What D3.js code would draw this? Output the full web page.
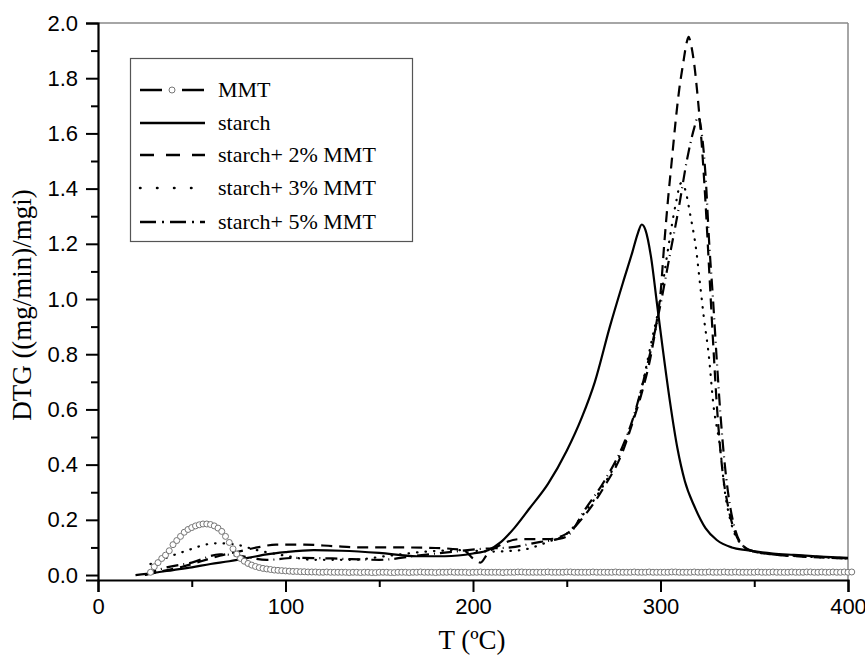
<!DOCTYPE html>
<html>
<head>
<meta charset="utf-8">
<script src="https://cdn.jsdelivr.net/npm/d3@7"></script>
<style>
  body { margin: 0; background: #fff; }
</style>
</head>
<body>
<div class="chart"></div>
<script>
var width = 865;
var height = 655;
var margin = {top: 23, right: 17, bottom: 75, left: 98};

// series: [T, DTG]
var starch = [[20,0],[30,0.008],[40,0.018],[50,0.028],[60,0.04],[70,0.05],[80,0.062],[90,0.075],[100,0.083],
  [115,0.09],[130,0.088],[150,0.08],[170,0.068],[185,0.068],[200,0.078],[208,0.09],[215,0.12],[222,0.17],
  [230,0.24],[240,0.33],[250,0.45],[258,0.57],[265,0.7],[273,0.9],[280,1.06],[285,1.17],[288,1.24],[290,1.27],
  [292,1.25],[295,1.15],[298,0.99],[301,0.83],[305,0.63],[309,0.46],[313,0.34],[318,0.25],[324,0.17],
  [330,0.127],[338,0.1],[346,0.09],[360,0.078],[371,0.073],[385,0.067],[400,0.062]];

var mmt2 = [[25,0],[35,0.015],[45,0.03],[55,0.05],[65,0.07],[75,0.085],[85,0.1],[95,0.11],[110,0.11],
  [125,0.105],[140,0.1],[160,0.1],[180,0.098],[195,0.09],[200,0.06],[204,0.045],[208,0.08],[215,0.11],
  [225,0.13],[240,0.13],[250,0.15],[260,0.22],[270,0.32],[280,0.45],[285,0.55],[290,0.66],[295,0.8],
  [298,0.92],[300,1.02],[302,1.2],[304,1.36],[306,1.5],[308,1.64],[310,1.76],[312,1.85],[314,1.93],
  [315,1.95],[316,1.93],[318,1.85],[320,1.72],[322,1.56],[324,1.35],[326,1.1],[328,0.85],[330,0.62],
  [333,0.38],[336,0.25],[340,0.15],[345,0.1],[350,0.085],[360,0.075],[380,0.065],[400,0.06]];

var mmt3 = [[28,0.04],[45,0.083],[63,0.115],[72,0.112],[85,0.09],[100,0.07],[115,0.055],[135,0.055],
  [155,0.07],[175,0.085],[195,0.09],[210,0.085],[225,0.09],[240,0.12],[250,0.15],[260,0.23],[270,0.33],
  [280,0.46],[290,0.68],[295,0.84],[300,1.0],[304,1.18],[308,1.34],[311,1.42],[313,1.4],[316,1.3],
  [319,1.18],[321,1.06],[323,0.94],[326,0.78],[328,0.63],[332,0.45],[334,0.32],[338,0.18],[342,0.12],
  [350,0.085],[360,0.075],[380,0.066],[400,0.06]];

var mmt5 = [[25,0],[35,0.025],[50,0.045],[65,0.075],[75,0.07],[90,0.055],[105,0.062],[125,0.06],
  [150,0.055],[170,0.07],[190,0.085],[205,0.095],[220,0.1],[236,0.12],[245,0.13],[250,0.14],[260,0.24],
  [270,0.34],[280,0.47],[285,0.56],[290,0.68],[295,0.82],[300,0.98],[305,1.16],[310,1.34],[314,1.5],
  [318,1.62],[320,1.66],[322,1.6],[324,1.45],[326,1.2],[328,1.0],[330,0.78],[332,0.58],[334,0.42],
  [336,0.3],[340,0.16],[345,0.1],[350,0.085],[360,0.075],[380,0.068],[400,0.06]];

// MMT sampled every 2 ºC from 28 ºC
var mmtStart = 28, mmtStep = 2;
var mmtValues = [0.010,0.030,0.045,0.060,0.072,0.088,0.110,0.125,0.140,0.155,
  0.165,0.172,0.178,0.182,0.185,0.185,0.183,0.178,0.170,0.158,
  0.140,0.118,0.095,0.076,0.060,0.050,0.042,0.036,0.031,0.027,
  0.024,0.022,0.020,0.018,0.017,0.016,0.015,0.014,0.013,0.013,
  0.012,0.012,
  0.011,0.011,0.011,0.010,0.010,0.011,0.010,0.010,0.010,0.010,
  0.010,0.009,0.010,0.010,0.009,0.010,0.010,0.009,0.009,0.010,
  0.010,0.010,0.009,0.009,0.010,0.010,0.010,0.009,0.010,0.010,
  0.011,0.010,0.010,0.010,0.009,0.010,0.010,0.010,0.011,0.010,
  0.010,0.010,0.010,0.009,0.010,0.010,0.011,0.010,0.010,0.010,
  0.010,0.010,0.009,0.010,0.010,0.010,0.011,0.011,0.010,0.010,
  0.010,0.010,0.010,0.010,0.011,0.010,0.010,0.010,0.010,0.011,
  0.011,0.010,0.010,0.010,0.010,0.010,0.011,0.010,0.010,0.010,
  0.010,0.010,0.011,0.010,0.010,0.010,0.010,0.011,0.010,0.010,
  0.010,0.011,0.010,0.010,0.010,0.010,0.010,0.011,0.011,0.010,
  0.010,0.010,0.010,0.011,0.010,0.010,0.010,0.011,0.010,0.010,
  0.010,0.011,0.010,0.010,0.011,0.010,0.010,0.010,0.010,0.010,
  0.011,0.010,0.010,0.010,0.011,0.010,0.010,0.010,0.010,0.011,
  0.010,0.010,0.010,0.011,0.011,0.010,0.010,0.011,0.010,0.010,
  0.011,0.010,0.010,0.011,0.010,0.011];

var xTicks = [0, 100, 200, 300, 400];
var xMinor = [50, 150, 250, 350];
var yTicks = [0, 0.2, 0.4, 0.6, 0.8, 1.0, 1.2, 1.4, 1.6, 1.8, 2.0];
var yMinor = [0.1, 0.3, 0.5, 0.7, 0.9, 1.1, 1.3, 1.5, 1.7, 1.9];

var legendNames = ["MMT", "starch", "starch+ 2% MMT", "starch+ 3% MMT", "starch+ 5% MMT"];

var svgCanvas = d3.select(".chart").append("svg")
                  .attr("width", width)
                  .attr("height", height)
                  .style("background-color", "#fff");

var x = d3.scaleLinear().domain([0, 400]).range([margin.left, width - margin.right]);
var y = d3.scaleLinear().domain([-0.018, 2.0]).range([height - margin.bottom, margin.top]);

// frame top / right
svgCanvas.append("line").attr("x1", x(0)).attr("x2", x(400)).attr("y1", y(2.0)).attr("y2", y(2.0))
         .attr("stroke", "#888").attr("stroke-width", 1.5);
svgCanvas.append("line").attr("x1", x(400)).attr("x2", x(400)).attr("y1", y(2.0)).attr("y2", y(-0.018))
         .attr("stroke", "#888").attr("stroke-width", 1.5);

// axes
var xAxis = svgCanvas.append("g").attr("transform", "translate(0," + y(-0.018) + ")")
  .call(d3.axisBottom(x).tickValues(xTicks).tickSize(12).tickPadding(6).tickFormat(d3.format("d")));
var xAxisMinor = svgCanvas.append("g").attr("transform", "translate(0," + y(-0.018) + ")")
  .call(d3.axisBottom(x).tickValues(xMinor).tickSize(7).tickFormat(""));
var yAxis = svgCanvas.append("g").attr("transform", "translate(" + x(0) + ",0)")
  .call(d3.axisLeft(y).tickValues(yTicks).tickSize(12).tickPadding(8).tickFormat(d3.format(".1f")));
var yAxisMinor = svgCanvas.append("g").attr("transform", "translate(" + x(0) + ",0)")
  .call(d3.axisLeft(y).tickValues(yMinor).tickSize(7).tickFormat(""));

[xAxis, xAxisMinor, yAxis, yAxisMinor].forEach(function(g) {
  g.select(".domain").attr("stroke", "#000").attr("stroke-width", 2.2);
  g.selectAll(".tick line").attr("stroke", "#000").attr("stroke-width", 2);
  g.selectAll(".tick text").attr("fill", "#000")
   .style("font-family", "'Liberation Sans', Arial, sans-serif").style("font-size", "22px");
});
xAxisMinor.select(".domain").remove();
yAxisMinor.select(".domain").remove();

// axis titles
svgCanvas.append("text").attr("x", 472).attr("y", 649).attr("text-anchor", "middle")
  .style("font-family", "'Liberation Serif', 'Times New Roman', serif").style("font-size", "27px")
  .text("T (ºC)");
svgCanvas.append("text").attr("transform", "translate(31,305) rotate(-90)").attr("text-anchor", "middle")
  .style("font-family", "'Liberation Serif', 'Times New Roman', serif").style("font-size", "27px")
  .text("DTG ((mg/min)/mgi)");

var line = d3.line()
  .x(function(d) { return x(d[0]); })
  .y(function(d) { return y(d[1]); })
  .curve(d3.curveMonotoneX);

var series = [
  { data: starch, dash: null },
  { data: mmt2, dash: "11,7" },
  { data: mmt3, dash: "0.5,8" },
  { data: mmt5, dash: "12,5,1,5" }
];

series.forEach(function(s) {
  svgCanvas.append("path").datum(s.data)
    .attr("d", line)
    .attr("fill", "none")
    .attr("stroke", "#000")
    .attr("stroke-width", 2.2)
    .attr("stroke-linecap", s.dash == "0.5,8" ? "round" : "butt")
    .attr("stroke-dasharray", s.dash);
});

svgCanvas.selectAll("circle.mmt")
  .data(mmtValues)
  .enter()
  .append("circle")
  .attr("class", "mmt")
  .attr("cx", function(d, i) { return x(mmtStart + i * mmtStep); })
  .attr("cy", function(d) { return y(d); })
  .attr("r", 3)
  .attr("fill", "#fff")
  .attr("stroke", "#777")
  .attr("stroke-width", 1);

// legend
var legend = svgCanvas.append("g");
legend.append("rect").attr("x", 130.5).attr("y", 58.5).attr("width", 282).attr("height", 183)
  .attr("fill", "#fff").attr("stroke", "#555").attr("stroke-width", 1.2);

var rowY = [90, 123, 155, 188, 222];
var legendDash = [null, null, "14,12", "0.5,16.5", "16,6,2,6"];

legendNames.forEach(function(name, i) {
  if (i == 0) {
    legend.append("line").attr("x1", 140).attr("x2", 162).attr("y1", rowY[i]).attr("y2", rowY[i])
      .attr("stroke", "#000").attr("stroke-width", 2.5);
    legend.append("line").attr("x1", 182).attr("x2", 204).attr("y1", rowY[i]).attr("y2", rowY[i])
      .attr("stroke", "#000").attr("stroke-width", 2.5);
    legend.append("circle").attr("cx", 172).attr("cy", rowY[i]).attr("r", 3)
      .attr("fill", "#fff").attr("stroke", "#777").attr("stroke-width", 1);
  } else {
    legend.append("line").attr("x1", 140).attr("x2", 205).attr("y1", rowY[i]).attr("y2", rowY[i])
      .attr("stroke", "#000").attr("stroke-width", 2.5)
      .attr("stroke-linecap", i == 3 ? "round" : "butt")
      .attr("stroke-dasharray", legendDash[i]);
  }
  legend.append("text").attr("x", 218).attr("y", rowY[i] + 7)
    .style("font-family", "'Liberation Serif', 'Times New Roman', serif").style("font-size", "22px")
    .text(name);
});
</script>
</body>
</html>
